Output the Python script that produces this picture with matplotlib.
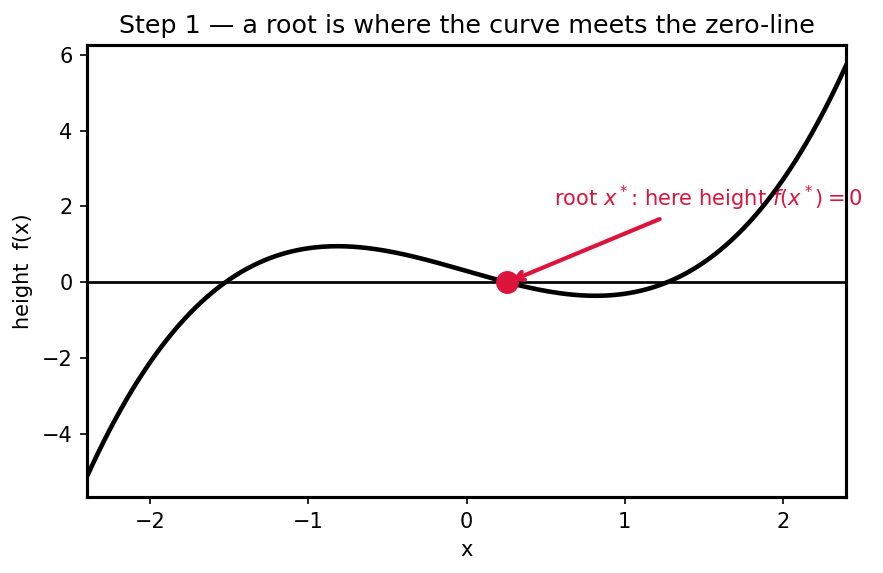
import numpy as np
import matplotlib
matplotlib.use("Agg")
import matplotlib.pyplot as plt

# cubic: f(x) = 0.6*(x^3 - 2x + 0.5)
coeffs = [0.6, 0.0, -1.2, 0.3]
x_range = [-2.4, 2.4]
root_x = [0.2586]
root_y = [0.0]
xticks = [-2, -1, 0, 1, 2]
yticks = [-4, -2, 0, 2, 4, 6]

fig = plt.figure(figsize=(883/150, 573/150), dpi=150)
ax = fig.add_axes([87/883, 1-497/573, (846-87)/883, (497-45)/573])

xs = np.linspace(x_range[0], x_range[1], 400)
ys = np.polyval(coeffs, xs)
ax.plot(xs, ys, color="black", lw=2.2, zorder=3)
ax.axhline(0, color="black", lw=1.3, zorder=2)
ax.plot(root_x, root_y, "o", color="#DC143C", markersize=10, zorder=4)
ax.annotate(r"root $x^*$: here height $f(x^*) = 0$",
            xy=(root_x[0], root_y[0]), xytext=(0.555, 2.0),
            color="#DC143C", fontsize=10.1, annotation_clip=False,
            arrowprops=dict(arrowstyle="->", color="#DC143C", lw=2), zorder=2.5)

ax.set_xlim(*x_range)
ax.margins(y=0.05)
ax.set_xticks(xticks)
ax.set_yticks(yticks)
ax.tick_params(labelsize=10)
for s in ax.spines.values():
    s.set_linewidth(1.5)
ax.set_xlabel("x", fontsize=10)
ax.set_ylabel("height  f(x)", fontsize=10)
ax.set_title("Step 1 — a root is where the curve meets the zero-line", fontsize=12.2)
fig.savefig("out.png", dpi=150)
